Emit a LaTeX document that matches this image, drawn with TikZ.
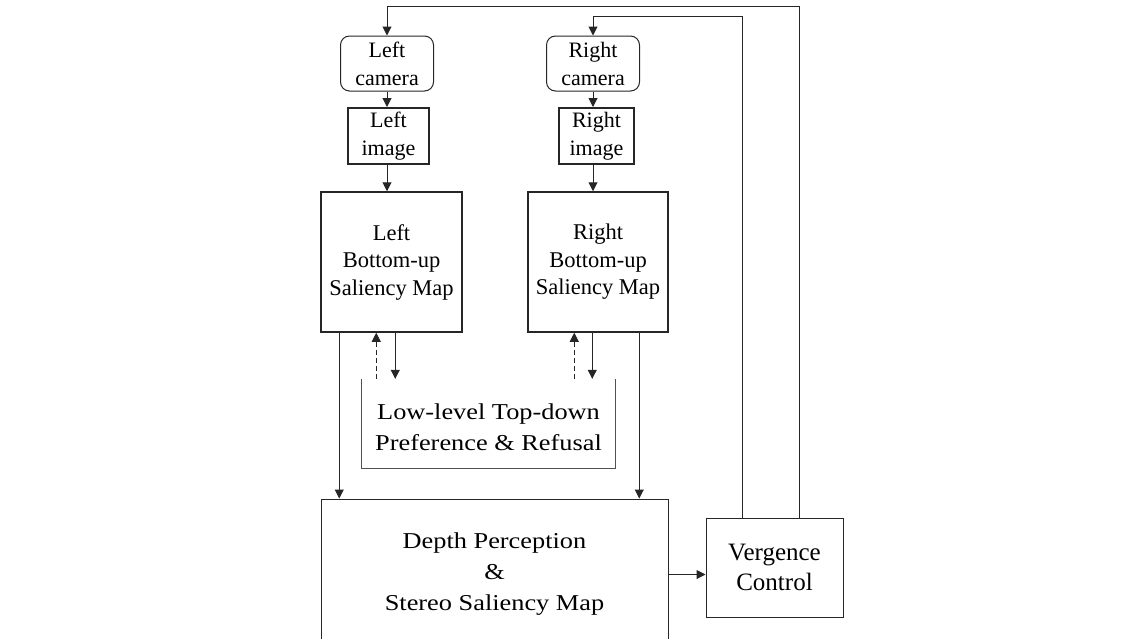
\documentclass[tikz,border=0pt]{standalone}
\usepackage{fontspec}
\setmainfont{Liberation Serif}
\newfontfamily\widefont{Liberation Serif}[FakeStretch=1.16]
\usetikzlibrary{arrows.meta}
\definecolor{ln}{HTML}{262626}
\begin{document}
\begin{tikzpicture}[x=1pt,y=-1pt,
  box/.style={draw=ln,line width=1pt,fill=white,align=center,inner sep=0pt},
  cambox/.style={box,rounded corners=9pt,minimum width=93pt,minimum height=55pt,
    font=\fontsize{22}{28}\selectfont},
  imgbox/.style={box,line width=2pt,minimum width=81pt,minimum height=56pt,
    font=\fontsize{22}{28}\selectfont},
  salbox/.style={box,line width=1.5pt,minimum width=141pt,minimum height=140pt,
    font=\fontsize{22.5}{27.5}\selectfont},
  arr/.style={draw=ln,line width=1pt,-{Triangle[length=9pt,width=9pt]}},
  ln1/.style={draw=ln,line width=1pt},
  dasharr/.style={arr,dash pattern=on 5pt off 3pt}
]
\useasboundingbox (0,0) rectangle (1145,638);
\clip (0,0) rectangle (1145,638);

% nodes
\node[cambox] (lcam) at (387,63.5) {Left\\camera};
\node[cambox] (rcam) at (593,63.5) {Right\\camera};
\node[imgbox] (limg) at (388.5,136) {Left\\image};
\node[imgbox,minimum width=75pt] (rimg) at (596.5,136) {Right\\image};
\node[salbox] (lsal) at (391.5,262) {Left\\Bottom-up\\Saliency Map};
\node[salbox,minimum width=140pt] (rsal) at (598,262) {Right\\Bottom-up\\Saliency Map};
\node[minimum width=253pt,minimum height=89pt,inner sep=0pt] (low) at (488.5,423.5) {};
\node[align=center,font=\widefont\fontsize{22.7}{31}\selectfont] (lowtxt) at (488.5,427) {Low-level Top-down\\Preference \& Refusal};
\node[box,minimum width=347pt,minimum height=151pt,font=\widefont\fontsize{22.7}{31}\selectfont] (depth) at (494.5,574.5) {Depth Perception\\\&\\Stereo Saliency Map};
\node[box,minimum width=137pt,minimum height=99pt,font=\fontsize{25}{30}\selectfont] (verg) at (774.5,567.5) {Vergence\\Control};

% bracket of the top-down box
\draw[ln1,draw=ln!80] (low.north west) -- (low.south west) -- (low.south east) -- (low.north east);

% camera -> image -> saliency
\draw[arr] (lcam.south) -- (lcam.south |- limg.north);
\draw[arr] (lcam.south |- limg.south) -- (lcam.south |- lsal.north);
\draw[arr] (rcam.south) -- (rcam.south |- rimg.north);
\draw[arr] (rcam.south |- rimg.south) -- (rcam.south |- rsal.north);

% left saliency links
\draw[arr] ([xshift=19pt]lsal.south west) -- ([xshift=19pt]lsal.south west |- depth.north);
\draw[dasharr] ([xshift=56pt]lsal.south west |- low.north) -- ([xshift=56pt]lsal.south west);
\draw[arr] ([xshift=75pt]lsal.south west) -- ([xshift=75pt]lsal.south west |- low.north);

% right saliency links
\draw[dasharr] ([xshift=47pt]rsal.south west |- low.north) -- ([xshift=47pt]rsal.south west);
\draw[arr] ([xshift=65pt]rsal.south west) -- ([xshift=65pt]rsal.south west |- low.north);
\draw[arr] ([xshift=112pt]rsal.south west) -- ([xshift=112pt]rsal.south west |- depth.north);

% depth -> vergence
\draw[arr] (depth.east) -- (depth.east -| verg.west);

% vergence feedback to cameras
\draw[arr] ([xshift=94pt]verg.north west) |- ([yshift=29pt]lcam.north) -- (lcam.north);
\draw[arr] ([xshift=37pt]verg.north west) |- ([yshift=19pt]rcam.north) -- (rcam.north);
\end{tikzpicture}
\end{document}
